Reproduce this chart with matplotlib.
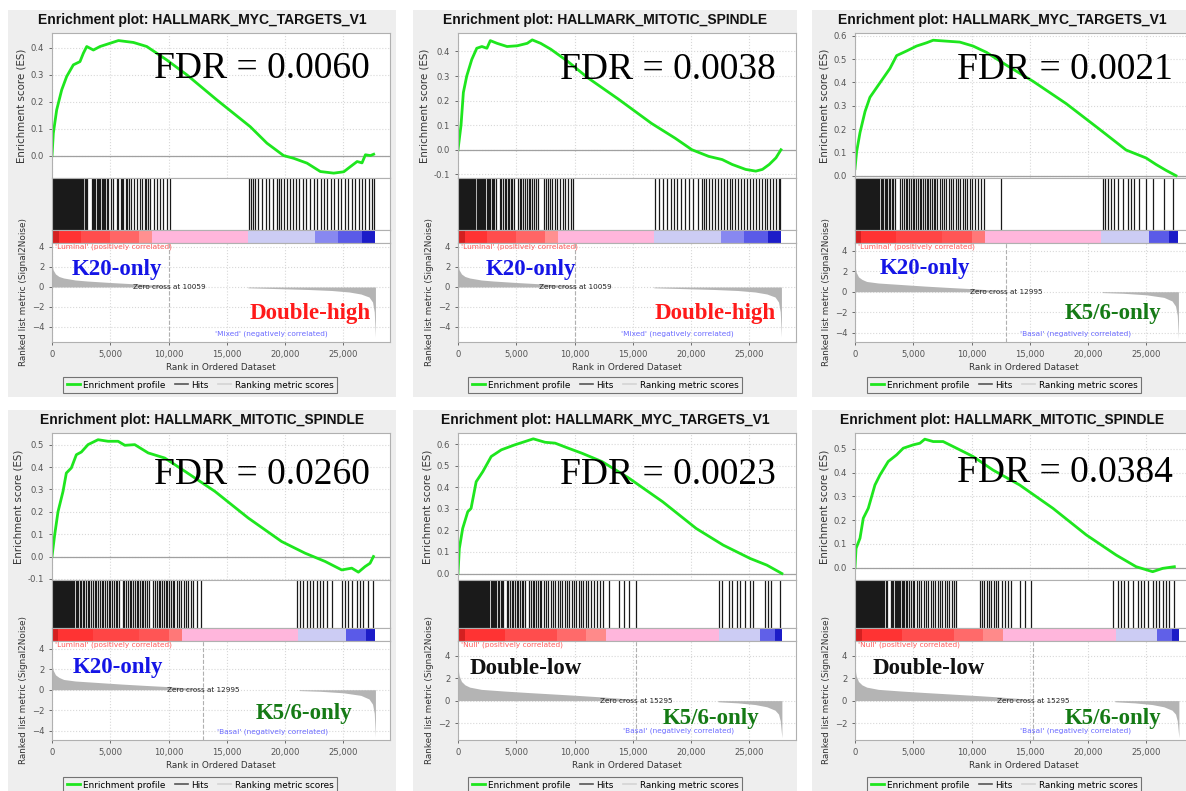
import matplotlib
matplotlib.use("Agg")
import matplotlib.pyplot as plt
from matplotlib.patches import Rectangle
from matplotlib.lines import Line2D
from matplotlib.ticker import MultipleLocator, FuncFormatter

W, H = 1186, 791

# ---------------- data ----------------
titles = ["Enrichment plot: HALLMARK_MYC_TARGETS_V1",
          "Enrichment plot: HALLMARK_MITOTIC_SPINDLE",
          "Enrichment plot: HALLMARK_MYC_TARGETS_V1",
          "Enrichment plot: HALLMARK_MITOTIC_SPINDLE",
          "Enrichment plot: HALLMARK_MYC_TARGETS_V1",
          "Enrichment plot: HALLMARK_MITOTIC_SPINDLE"]
fdr_values = ["0.0060", "0.0038", "0.0021", "0.0260", "0.0023", "0.0384"]
ranked_list_of_panel = ["lm", "lm", "lb", "lb", "nb", "nb"]

# running enrichment score (rank, ES)
es1_x = [0, 115, 400, 830, 1260, 1830, 2400, 2690, 2980, 3550, 4120, 4980, 5700, 6985, 8130, 9850,
         11570, 14150, 17010, 18440, 19870, 20730, 21880, 23020, 24170, 25030, 25600, 26180, 26600,
         26890, 27320, 27600]
es1_y = [0.0, 0.083, 0.169, 0.243, 0.293, 0.336, 0.348, 0.379, 0.404, 0.391, 0.404, 0.416, 0.426,
         0.419, 0.404, 0.354, 0.299, 0.206, 0.107, 0.046, 0.0, -0.01, -0.028, -0.059, -0.065, -0.06,
         -0.041, -0.022, -0.027, 0.003, 0.0, 0.005]
es2_x = [0, 260, 460, 750, 1180, 1610, 2050, 2480, 2770, 3350, 4210, 5080, 5940, 6370, 7090, 7960,
         9400, 11130, 13730, 16610, 18630, 20070, 21510, 22670, 23530, 24680, 25550, 26120, 26700,
         27280, 27710]
es2_y = [0.0, 0.1, 0.233, 0.3, 0.367, 0.413, 0.42, 0.413, 0.444, 0.433, 0.42, 0.423, 0.433, 0.447,
         0.433, 0.409, 0.36, 0.293, 0.207, 0.107, 0.047, 0.0, -0.027, -0.04, -0.06, -0.08, -0.087,
         -0.08, -0.06, -0.033, 0.0]
es3_x = [0, 140, 430, 860, 1280, 1860, 2430, 3000, 3570, 4430, 5280, 6140, 6710, 7850, 8990, 10130,
         11280, 12990, 15270, 18120, 20980, 23260, 24970, 25830, 26680, 27540]
es3_y = [0.03, 0.103, 0.185, 0.275, 0.336, 0.378, 0.419, 0.46, 0.515, 0.535, 0.556, 0.57, 0.581,
         0.577, 0.573, 0.556, 0.529, 0.474, 0.405, 0.309, 0.199, 0.11, 0.076, 0.048, 0.023, 0.0]
es4_x = [0, 230, 515, 945, 1230, 1660, 2090, 2520, 3090, 3950, 4810, 5670, 6250, 7100, 8250, 9680,
         11400, 13980, 16840, 19700, 21710, 23430, 24860, 25720, 26290, 26860, 27290, 27580]
es4_y = [0.0, 0.097, 0.2, 0.291, 0.373, 0.396, 0.455, 0.467, 0.5, 0.522, 0.515, 0.515, 0.497, 0.5,
         0.463, 0.44, 0.381, 0.291, 0.172, 0.067, 0.015, -0.022, -0.06, -0.052, -0.07, -0.045, -0.03,
         0.0]
es5_x = [0, 115, 400, 840, 1120, 1560, 2130, 2850, 3720, 4870, 5730, 6460, 7470, 8330, 9490, 10640,
         12370, 14680, 17560, 20440, 22750, 25060, 26500, 27790]
es5_y = [0.0, 0.116, 0.209, 0.287, 0.302, 0.426, 0.473, 0.543, 0.574, 0.597, 0.612, 0.625, 0.609,
         0.605, 0.581, 0.558, 0.519, 0.442, 0.333, 0.209, 0.132, 0.07, 0.039, 0.0]
es6_x = [0, 90, 430, 710, 1140, 1710, 2140, 2850, 3570, 4140, 4990, 5570, 5990, 6710, 7560, 8710,
         10130, 11840, 14130, 16980, 19840, 22410, 24120, 25540, 26400, 27400]
es6_y = [0.0, 0.081, 0.124, 0.208, 0.25, 0.348, 0.39, 0.447, 0.475, 0.503, 0.517, 0.524, 0.541,
         0.531, 0.531, 0.503, 0.468, 0.411, 0.348, 0.25, 0.138, 0.053, 0.004, -0.017, -0.003, 0.004]

# ranks of gene-set members (hits)
hits1 = [30, 110, 190, 260, 330, 400, 470, 540, 620, 690, 760, 830, 900, 980, 1050, 1120, 1200, 1270,
         1350, 1420, 1500, 1580, 1650, 1730, 1800, 1880, 1960, 2050, 2120, 2200, 2280, 2370, 2450,
         2540, 2620, 2700, 2800, 2900, 2990, 3410, 3520, 3610, 3720, 3840, 3930, 4040, 4150, 4270,
         4370, 4470, 4590, 4700, 4840, 5050, 5270, 5560, 5700, 5900, 6020, 6130, 6350, 6470, 6590,
         6820, 7050, 7280, 7560, 7710, 7940, 8100, 8250, 8420, 8710, 8990, 9260, 9540, 9830, 10140,
         16880, 17050, 17250, 17450, 17710, 18000, 18340, 18600, 18920, 19310, 19460, 19680, 19910,
         20170, 20430, 20660, 20950, 21230, 21550, 21780, 22120, 22440, 22720, 23040, 23300, 23610,
         23900, 24210, 24530, 24810, 25100, 25390, 25700, 25990, 26300, 26590, 26880, 27190, 27450,
         27620]
hits2 = [40, 120, 200, 280, 350, 430, 510, 600, 680, 760, 840, 920, 1000, 1090, 1170, 1250, 1330,
         1420, 1500, 1600, 1690, 1780, 1870, 1960, 2060, 2150, 2250, 2350, 2450, 2560, 2660, 2780,
         2900, 3010, 3130, 3250, 3600, 3720, 3850, 3990, 4120, 4260, 4400, 4520, 4660, 4800, 5130,
         5280, 5430, 5600, 5760, 5900, 6050, 6200, 6380, 6540, 6700, 6900, 7350, 7550, 7720, 7900,
         8100, 8300, 8520, 8750, 8980, 9200, 9450, 9700, 9830, 16900, 17250, 17600, 17900, 18250,
         18500, 18800, 19150, 19500, 19850, 20200, 20600, 20930, 21080, 21300, 21550, 21800, 22050,
         22300, 22550, 22800, 23050, 23300, 23550, 23800, 24050, 24300, 24550, 24800, 25050, 25300,
         25550, 25800, 26050, 26300, 26550, 26800, 27050, 27300, 27500, 27650]
hits3 = [30, 100, 170, 240, 310, 380, 450, 520, 600, 680, 760, 840, 920, 1000, 1080, 1160, 1250, 1330,
         1420, 1510, 1600, 1700, 1800, 1900, 2000, 2100, 2200, 2300, 2420, 2540, 2660, 2780, 2900,
         3020, 3150, 3280, 3420, 3900, 4050, 4200, 4350, 4500, 4650, 4800, 4950, 5100, 5250, 5400,
         5550, 5700, 5850, 6000, 6150, 6300, 6450, 6600, 6750, 6900, 7050, 7250, 7450, 7650, 7850,
         8050, 8250, 8450, 8650, 8850, 9050, 9250, 9450, 9650, 9850, 10050, 10300, 10550, 10800,
         11050, 12560, 21260, 21490, 21690, 21980, 22260, 22550, 22980, 23400, 23690, 23970, 24400,
         24970, 25540, 26540, 27250]
hits4 = [40, 110, 180, 250, 320, 400, 480, 560, 640, 720, 800, 880, 960, 1040, 1120, 1200, 1280, 1360,
         1440, 1520, 1620, 1720, 1820, 1920, 2030, 2140, 2250, 2380, 2500, 2620, 2760, 2900, 3050,
         3200, 3350, 3500, 3650, 3800, 3950, 4100, 4250, 4400, 4550, 4700, 4850, 5000, 5150, 5300,
         5450, 5600, 5750, 6050, 6200, 6350, 6500, 6650, 6800, 6950, 7100, 7250, 7400, 7550, 7700,
         7850, 8000, 8150, 8300, 8700, 8850, 9000, 9150, 9300, 9450, 9600, 9750, 9900, 10050, 10200,
         10350, 10500, 10700, 10900, 11100, 11300, 11500, 11700, 11900, 12100, 12400, 12800, 20990,
         21280, 21560, 21850, 22140, 22420, 22710, 23000, 23280, 23570, 24000, 24860, 25140, 25430,
         25720, 26140, 26430, 26720, 27150, 27580]
hits5 = [30, 90, 150, 210, 270, 330, 390, 450, 510, 570, 630, 690, 750, 810, 870, 930, 990, 1050, 1110,
         1180, 1250, 1320, 1390, 1460, 1530, 1600, 1680, 1760, 1840, 1920, 2000, 2080, 2160, 2250,
         2340, 2430, 2520, 2610, 2700, 2800, 2900, 3000, 3100, 3200, 3300, 3420, 3540, 3660, 3780,
         3900, 4200, 4330, 4460, 4600, 4740, 4880, 5020, 5160, 5300, 5450, 5600, 5750, 6100, 6250,
         6400, 6550, 6700, 6850, 7000, 7150, 7350, 7550, 7750, 7950, 8150, 8350, 8550, 8750, 8950,
         9150, 9350, 9550, 9750, 9950, 10150, 10350, 10550, 10750, 10950, 11150, 11400, 11650, 11900,
         12150, 12400, 12950, 13800, 14200, 14700, 15250, 22400, 22690, 23270, 23470, 23900, 24190,
         24630, 25060, 25350, 26360, 26640, 26870, 27650]
hits6 = [20, 80, 140, 200, 260, 320, 390, 460, 530, 600, 670, 740, 810, 880, 950, 1020, 1100, 1180,
         1260, 1340, 1420, 1500, 1580, 1660, 1740, 1820, 1900, 1990, 2080, 2170, 2260, 2350, 2440,
         2530, 2620, 2710, 3100, 3200, 3300, 3400, 3500, 3600, 3700, 3800, 3900, 4000, 4100, 4200,
         4350, 4500, 4650, 4800, 4950, 5100, 5300, 5500, 5700, 5900, 6100, 6250, 6500, 6700, 6900,
         7100, 7300, 7500, 7700, 7900, 8100, 8300, 8500, 8700, 10700, 10900, 11100, 11300, 11500,
         11700, 11900, 12100, 12300, 12600, 12900, 13100, 13400, 14130, 14550, 15120, 22120, 22550,
         22830, 23120, 23400, 23830, 24260, 24540, 24830, 25110, 25540, 25830, 26110, 26400, 26680,
         26970, 27400]

# ranked list metric (Signal2Noise) for each comparison
lm_rank = [0, 100, 300, 600, 1000, 2000, 3000, 5000, 7000, 9000, 10059, 16800, 16801, 19000, 22000,
           24000, 25500, 26500, 27200, 27500, 27650, 27750]
lm_metric = [2.2, 1.7, 1.3, 1.05, 0.9, 0.7, 0.6, 0.45, 0.32, 0.18, 0.0, 0.0, -0.08, -0.15, -0.25,
             -0.35, -0.5, -0.7, -1.0, -1.5, -2.5, -5.0]
lb_rank = [0, 100, 300, 600, 1000, 2000, 4000, 6000, 8000, 10000, 11500, 12995, 21200, 21201, 23000,
           25000, 26500, 27200, 27500, 27650, 27750]
lb_metric = [2.5, 1.9, 1.45, 1.2, 1.0, 0.85, 0.7, 0.55, 0.42, 0.3, 0.18, 0.0, 0.0, -0.08, -0.15,
             -0.3, -0.55, -0.9, -1.4, -2.3, -4.6]
nb_rank = [0, 100, 300, 600, 1000, 2000, 4000, 6000, 8000, 10000, 12000, 14000, 15295, 22300, 22301,
           24000, 25500, 26500, 27200, 27500, 27650, 27790]
nb_metric = [2.9, 2.2, 1.7, 1.4, 1.2, 1.0, 0.85, 0.72, 0.6, 0.48, 0.35, 0.2, 0.0, 0.0, -0.1, -0.2,
             -0.35, -0.55, -0.85, -1.2, -1.8, -3.3]
zero_cross = {"lm": 10059, "lb": 12995, "nb": 15295}
pos_labels = {"lm": "'Luminal' (positively correlated)", "lb": "'Luminal' (positively correlated)",
              "nb": "'Null' (positively correlated)"}
neg_labels = {"lm": "'Mixed' (negatively correlated)", "lb": "'Basal' (negatively correlated)",
              "nb": "'Basal' (negatively correlated)"}

# heat-map strip under the hits
lm_bar_edges = [0, 600, 2500, 5000, 7500, 8600, 16800, 22600, 24500, 26600, 27750]
lm_bar_colors = ["#d42020", "#ff3333", "#ff4d4d", "#ff6666", "#ff9090", "#ffb6dc", "#ccccf4",
                 "#8888f0", "#5a5ae8", "#1c1cc8"]
lb_bar_edges = [0, 500, 3500, 7500, 10000, 11130, 21120, 25260, 26970, 27700]
lb_bar_colors = ["#d42020", "#ff3333", "#ff4545", "#ff5555", "#ff7878", "#ffb6dc", "#ccccf4",
                 "#5a5ae8", "#1c1cc8"]
nb_bar_edges = [0, 600, 4000, 8500, 11000, 12720, 22400, 25920, 27210, 27790]
nb_bar_colors = ["#d42020", "#ff3333", "#ff4d4d", "#ff6a6a", "#ff8a8a", "#ffb6dc", "#ccccf4",
                 "#6060e8", "#1c1cc8"]

# phenotype annotations (text, colour, rank, metric)
group_top = [("K20-only", "#1515e6", 5580, 1.7), ("K20-only", "#1515e6", 6230, 1.7),
             ("K20-only", "#1515e6", 6000, 2.3), ("K20-only", "#1515e6", 5670, 2.2),
             ("Double-low", "#111111", 5800, 2.9), ("Double-low", "#111111", 6340, 2.9)]
group_bottom = [("Double-high", "#ff1a1a", 22160, -2.6), ("Double-high", "#ff1a1a", 22060, -2.6),
                ("K5/6-only", "#157a15", 22100, -2.1), ("K5/6-only", "#157a15", 21650, -2.35),
                ("K5/6-only", "#157a15", 21700, -1.6), ("K5/6-only", "#157a15", 22130, -1.55)]

# ---------------- layout (pixels) ----------------
es_ylims = [(-0.083, 0.454), (-0.115, 0.475), (-0.01, 0.612),
            (-0.105, 0.552), (-0.03, 0.652), (-0.052, 0.567)]
rank_ylims = [(-5.5, 4.4), (-5.5, 4.4), (-4.9, 4.75), (-4.9, 4.75), (-3.5, 5.3), (-3.5, 5.3)]
fdr_y = [0.755, 0.745, 0.745, 0.714, 0.714, 0.73]
rows = [dict(bg=10, es=33, hit=178, bar=230, rank=243, end=342, leg=385),
        dict(bg=410, es=433, hit=580, bar=628, rank=641, end=740, leg=785)]
bg_left = [8, 413, 812]
bg_width = [388, 384, 380]
ax_left = [52, 458, 855]
ax_width = 338
XMAX = 29000

ranked = {"lm": (lm_rank, lm_metric, lm_bar_edges, lm_bar_colors),
          "lb": (lb_rank, lb_metric, lb_bar_edges, lb_bar_colors),
          "nb": (nb_rank, nb_metric, nb_bar_edges, nb_bar_colors)}
es_x = [es1_x, es2_x, es3_x, es4_x, es5_x, es6_x]
es_y = [es1_y, es2_y, es3_y, es4_y, es5_y, es6_y]
hits = [hits1, hits2, hits3, hits4, hits5, hits6]

SPINE = "#b0b0b0"
TICK = "#555555"
GRID = dict(color="#d8d8d8", linestyle=":", linewidth=0.8)

fig = plt.figure(figsize=(W / 100, H / 100), dpi=100)
fig.patch.set_facecolor("white")


def px_axes(left, top, width, height):
    return fig.add_axes([left / W, 1 - (top + height) / H, width / W, height / H])


def style(ax):
    for s in ax.spines.values():
        s.set_color(SPINE)
        s.set_linewidth(0.8)
    ax.tick_params(colors=TICK, labelsize=6.1, length=2, width=0.6)
    ax.set_xlim(0, XMAX)


for i in range(6):
    r, c = rows[i // 3], i % 3
    key = ranked_list_of_panel[i]
    rk_x, rk_y, edges, colors = ranked[key]
    left = ax_left[c]
    bg_bottom = 791 if i >= 3 else 397

    fig.add_artist(Rectangle((bg_left[c] / W, 1 - bg_bottom / H),
                             bg_width[c] / W, (bg_bottom - r["bg"]) / H,
                             transform=fig.transFigure, facecolor="#eeeeee",
                             edgecolor="none", zorder=-5))
    fig.text((bg_left[c] + bg_width[c] / 2) / W, 1 - (r["bg"] + 10) / H, titles[i],
             ha="center", va="center", fontsize=10, fontweight="bold",
             family="Liberation Sans", color="#111111")

    # enrichment score
    ax = px_axes(left, r["es"], ax_width, r["hit"] - r["es"])
    style(ax)
    ax.grid(True, **GRID)
    ax.set_axisbelow(True)
    ax.xaxis.set_major_locator(MultipleLocator(5000))
    ax.yaxis.set_major_locator(MultipleLocator(0.1))
    ax.yaxis.set_major_formatter(FuncFormatter(lambda v, p: f"{v:.1f}"))
    ax.set_ylim(*es_ylims[i])
    ax.tick_params(bottom=False, labelbottom=False)
    ax.axhline(0, color="#a0a0a0", lw=0.9)
    ax.plot(es_x[i], es_y[i], color="#1ee61e", lw=2.0)
    ax.set_ylabel("Enrichment score (ES)", fontsize=7.4, color="#333333", labelpad=3)
    ax.text(0.62, fdr_y[i], f"FDR = {fdr_values[i]}", transform=ax.transAxes,
            ha="center", va="center", fontsize=27, family="Liberation Serif", color="black")

    # hits
    axh = px_axes(left, r["hit"], ax_width, r["bar"] - r["hit"])
    style(axh)
    axh.set_ylim(0, 1)
    axh.set_xticks([])
    axh.set_yticks([])
    axh.vlines(hits[i], 0, 1, color="#1a1a1a", lw=0.9)

    # ranked list heat strip
    axb = px_axes(left, r["bar"], ax_width, r["rank"] - r["bar"])
    style(axb)
    axb.set_xticks([])
    axb.set_yticks([])
    for j, col in enumerate(colors):
        axb.axvspan(edges[j], edges[j + 1], 0, 1, color=col, lw=0)

    # ranked list metric
    axr = px_axes(left, r["rank"], ax_width, r["end"] - r["rank"])
    style(axr)
    axr.grid(True, **GRID)
    axr.set_axisbelow(True)
    axr.set_ylim(*rank_ylims[i])
    axr.xaxis.set_major_locator(MultipleLocator(5000))
    axr.yaxis.set_major_locator(MultipleLocator(2))
    axr.xaxis.set_major_formatter(FuncFormatter(lambda v, p: f"{int(v):,}"))
    axr.fill_between(rk_x, rk_y, 0, color="#b4b4b4", lw=0)
    axr.axvline(zero_cross[key], color="#b0b0b0", ls="--", lw=0.8)
    axr.text(zero_cross[key], 0, f"Zero cross at {zero_cross[key]}", fontsize=5.2,
             color="#222222", ha="center", va="center")
    axr.text(250, rank_ylims[i][1], pos_labels[key], fontsize=5.3, color="#ff5a5a",
             ha="left", va="top")
    axr.text(23700, rank_ylims[i][0] + 0.5, neg_labels[key], fontsize=5.3, color="#6a6aff",
             ha="right", va="bottom")
    t, col, gx, gy = group_top[i]
    axr.text(gx, gy, t, color=col, fontsize=16.5, fontweight="bold",
             family="Liberation Serif", ha="center", va="center")
    t, col, gx, gy = group_bottom[i]
    axr.text(gx, gy, t, color=col, fontsize=16.5, fontweight="bold",
             family="Liberation Serif", ha="center", va="center")
    axr.set_ylabel("Ranked list metric (Signal2Noise)", fontsize=6.4, color="#333333", labelpad=3)
    axr.set_xlabel("Rank in Ordered Dataset", fontsize=6.4, color="#333333", labelpad=3)

    handles = [Line2D([], [], color="#1ee61e", lw=2),
               Line2D([], [], color="#555555", lw=1.2),
               Line2D([], [], color="#d4d4d4", lw=1.2)]
    leg = fig.legend(handles, ["Enrichment profile", "Hits", "Ranking metric scores"],
                     loc="center", bbox_to_anchor=((bg_left[c] + 192) / W, 1 - r["leg"] / H),
                     ncol=3, fontsize=6.4, frameon=True, fancybox=False, handlelength=1.5,
                     columnspacing=1.0, handletextpad=0.4, borderpad=0.35)
    leg.get_frame().set_edgecolor("#555555")
    leg.get_frame().set_facecolor("#eeeeee")
    leg.get_frame().set_linewidth(0.8)

fig.savefig("out.png", dpi=100)
